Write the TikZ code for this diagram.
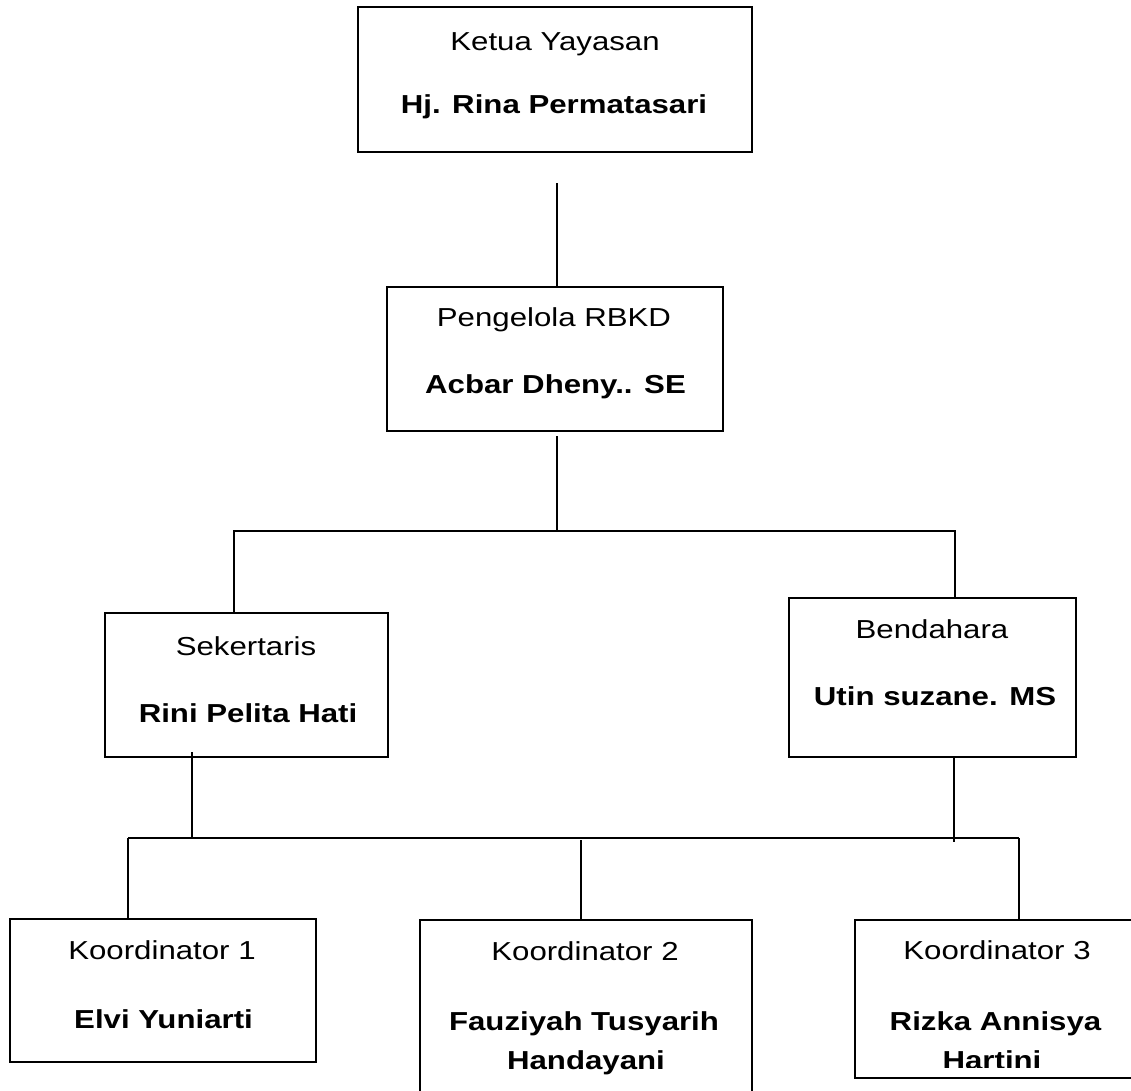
\documentclass[tikz,border=0pt]{standalone}
\usepackage{fontspec}
\usepackage{graphicx}
\setmainfont{Liberation Sans}
\newcommand{\hstretchtxt}[1]{\scalebox{1.2}[1]{#1}}
\begin{document}
\begin{tikzpicture}[x=1pt,y=-1pt,
  box/.style={draw,line width=1.8pt,inner sep=0pt},
  role/.style={anchor=base,inner sep=0pt,font=\fontsize{26}{30}\selectfont},
  person/.style={anchor=base,inner sep=0pt,font=\fontsize{26}{30}\selectfont\bfseries},
  conn/.style={line width=1.3pt}]
\useasboundingbox (0,0) rectangle (1131,1090);
\clip (0,0) rectangle (1131,1090);

% boxes
\node[box,minimum width=394pt,minimum height=145pt] (ketua) at (555,79.5) {};
\node[box,minimum width=336pt,minimum height=144pt] (peng) at (555,359) {};
\node[box,minimum width=283pt,minimum height=144pt] (sek) at (246.5,685) {};
\node[box,minimum width=287pt,minimum height=159pt] (bend) at (932.5,677.5) {};
\node[box,minimum width=306pt,minimum height=143pt] (k1) at (163,990.5) {};
\node[box,minimum width=332pt,minimum height=190pt] (k2) at (586,1015) {};
\node[box,minimum width=295pt,minimum height=158pt] (k3) at (1002.5,999) {};

% texts
\node[role] (ketuaR) at (555,50) {\hstretchtxt{Ketua Yayasan}};
\node[person] (ketuaP) at (554,113) {\hstretchtxt{Hj. Rina Permatasari}};
\node[role] (pengR) at (554,326) {\hstretchtxt{Pengelola RBKD}};
\node[person] (pengP) at (555.5,393) {\hstretchtxt{Acbar Dheny.. SE}};
\node[role] (sekR) at (246,655) {\hstretchtxt{Sekertaris}};
\node[person] (sekP) at (248,722) {\hstretchtxt{Rini Pelita Hati}};
\node[role] (bendR) at (932,638) {\hstretchtxt{Bendahara}};
\node[person] (bendP) at (935,705) {\hstretchtxt{Utin suzane. MS}};
\node[role] (k1R) at (162,959) {\hstretchtxt{Koordinator 1}};
\node[person] (k1P) at (163.5,1028) {\hstretchtxt{Elvi Yuniarti}};
\node[role] (k2R) at (585,960) {\hstretchtxt{Koordinator 2}};
\node[person] (k2P) at (584,1030) {\hstretchtxt{Fauziyah Tusyarih}};
\node[person] (k2Q) at (586,1069) {\hstretchtxt{Handayani}};
\node[role] (k3R) at (997,959) {\hstretchtxt{Koordinator 3}};
\node[person] (k3P) at (995.5,1030) {\hstretchtxt{Rizka Annisya}};
\begin{scope}
  \clip (850,1035) rectangle (1131,1067);
  \node[person] (k3Q) at (992,1069) {\hstretchtxt{Hartini}};
\end{scope}

% connectors
\coordinate (t1) at (557,183);
\draw[conn] (t1) -- (t1 |- peng.north);
\coordinate (p1) at (557,436);
\coordinate (pm) at (557,531);
\draw[conn] (p1) -- (pm);
\coordinate (hl) at (234,531);
\coordinate (hr) at (955,531);
\draw[conn] (sek.north -| hl) -- (hl) -- (hr) -- (hr |- bend.north);

\coordinate (s1) at (192,752);
\coordinate (s2) at (192,839);
\draw[conn] (s1) -- (s2);
\coordinate (b1) at (954,757);
\coordinate (b2) at (954,842);
\draw[conn] (b1) -- (b2);
\coordinate (bl) at (128,838);
\coordinate (br) at (1019,838);
\draw[line width=1.8pt] (bl) -- (br);
\draw[conn] (bl) -- (bl |- k1.north);
\coordinate (bm) at (581,840);
\draw[conn] (bm) -- (bm |- k2.north);
\draw[conn] (br) -- (br |- k3.north);
\end{tikzpicture}
\end{document}
